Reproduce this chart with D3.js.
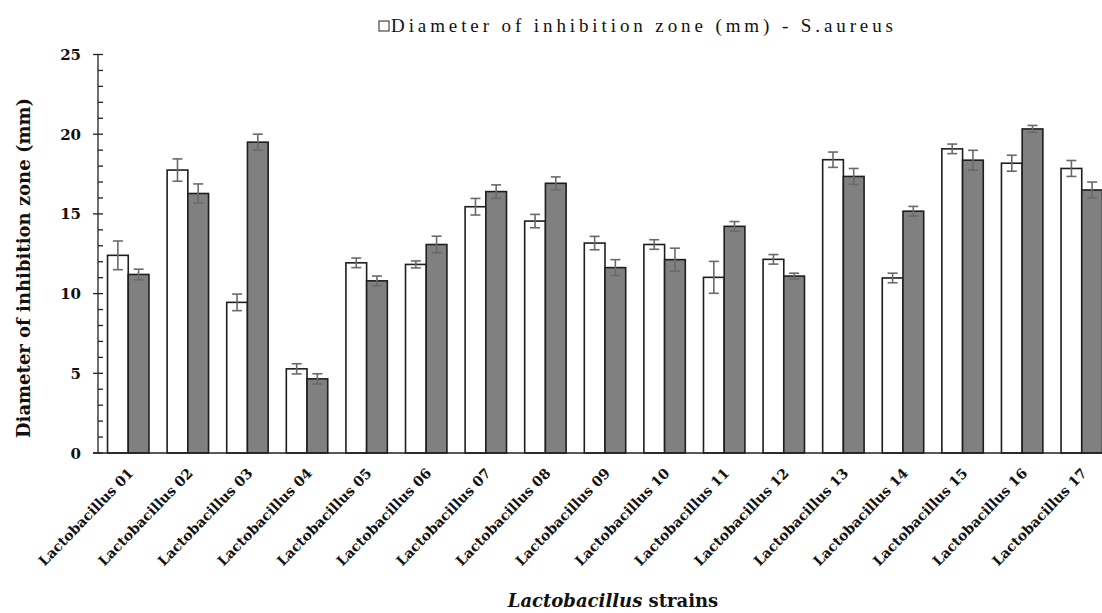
<!DOCTYPE html>
<html>
<head>
<meta charset="utf-8">
<script src="https://cdn.jsdelivr.net/npm/d3@7"></script>
<style>
  body { margin: 0; background: #fff; }
  svg { display: block; }
  text { font-family: "DejaVu Serif", "Liberation Serif", serif; fill: #111; }
</style>
</head>
<body>
<svg id="chart" width="1102" height="613"></svg>
<script>
// strains on the x axis
var strains = ['Lactobacillus 01', 'Lactobacillus 02', 'Lactobacillus 03', 'Lactobacillus 04',
    'Lactobacillus 05', 'Lactobacillus 06', 'Lactobacillus 07', 'Lactobacillus 08',
    'Lactobacillus 09', 'Lactobacillus 10', 'Lactobacillus 11', 'Lactobacillus 12',
    'Lactobacillus 13', 'Lactobacillus 14', 'Lactobacillus 15', 'Lactobacillus 16',
    'Lactobacillus 17'];
// white bars (S.aureus) and grey bars, with their error bars
var aureus = [12.4, 17.75, 9.45, 5.28, 11.93, 11.83, 15.45, 14.55, 13.17, 13.08, 11.02, 12.15, 18.4, 10.98, 19.08, 18.18, 17.85];
var aureusErr = [0.9, 0.7, 0.52, 0.32, 0.3, 0.22, 0.52, 0.42, 0.42, 0.3, 1.0, 0.3, 0.48, 0.3, 0.3, 0.5, 0.5];
var other = [11.2, 16.28, 19.5, 4.65, 10.8, 13.08, 16.4, 16.92, 11.63, 12.13, 14.22, 11.1, 17.35, 15.17, 18.37, 20.33, 16.5];
var otherErr = [0.33, 0.6, 0.5, 0.32, 0.3, 0.52, 0.42, 0.4, 0.5, 0.72, 0.3, 0.18, 0.5, 0.3, 0.62, 0.22, 0.5];
var yTicks = [0, 5, 10, 15, 20, 25];
var legendLabel = 'Diameter of inhibition zone (mm) - S.aureus';

var svg = d3.select('#chart');
var x0 = 98, x1 = 1112, yTop = 54.5, yBot = 453;

var x = d3.scaleBand().domain(strains).range([x0, x1])
    .paddingInner(0.305).paddingOuter(0.16);
var xs = d3.scaleBand().domain(['a', 'b']).range([0, x.bandwidth()]);
var y = d3.scaleLinear().domain([0, 25]).range([yBot, yTop]);

var rows = strains.map(function(s, i) {
    return [
        {strain: s, key: 'a', v: aureus[i], e: aureusErr[i], fill: '#ffffff'},
        {strain: s, key: 'b', v: other[i], e: otherErr[i], fill: '#808080'}
    ];
});
var flat = [].concat.apply([], rows);

var bars = svg.append('g');
bars.selectAll('rect').data(flat).enter().append('rect')
    .attr('x', function(d) { return x(d.strain) + xs(d.key); })
    .attr('y', function(d) { return y(d.v); })
    .attr('width', xs.bandwidth())
    .attr('height', function(d) { return yBot - y(d.v); })
    .attr('fill', function(d) { return d.fill; })
    .attr('stroke', '#1e1e1e')
    .attr('stroke-width', 1.6);

// error bars
var err = svg.append('g').attr('stroke', '#6a6a6a').attr('stroke-width', 1.6);
flat.forEach(function(d) {
    var cx = x(d.strain) + xs(d.key) + xs.bandwidth() / 2;
    var t = y(d.v + d.e), b = y(d.v - d.e);
    err.append('line').attr('x1', cx).attr('x2', cx).attr('y1', t).attr('y2', b);
    err.append('line').attr('x1', cx - 5).attr('x2', cx + 5).attr('y1', t).attr('y2', t);
    err.append('line').attr('x1', cx - 5).attr('x2', cx + 5).attr('y1', b).attr('y2', b);
});

// y axis with minor ticks every 1
var yAxis = svg.append('g').attr('stroke', '#222').attr('stroke-width', 1.3);
yAxis.append('line').attr('x1', x0).attr('x2', x0).attr('y1', yTop).attr('y2', yBot);
d3.range(0, 26).forEach(function(v) {
    var major = v % 5 === 0;
    yAxis.append('line')
        .attr('x1', major ? x0 - 5 : x0).attr('x2', x0 + 5)
        .attr('y1', y(v)).attr('y2', y(v));
});
svg.append('g').selectAll('text').data(yTicks).enter().append('text')
    .attr('x', 81).attr('y', function(d) { return y(d) + 5.5; })
    .attr('text-anchor', 'end')
    .style('font-size', '15px').style('font-weight', 'bold')
    .text(function(d) { return d; });

// x axis baseline
svg.append('line').attr('x1', x0 - 5).attr('x2', 1102).attr('y1', yBot).attr('y2', yBot)
    .attr('stroke', '#222').attr('stroke-width', 1.5);

svg.append('g').selectAll('text').data(strains).enter().append('text')
    .attr('transform', function(d) {
        return 'translate(' + (x(d) + x.bandwidth() / 2 + 6) + ',' + (yBot + 21) + ') rotate(-46)';
    })
    .attr('text-anchor', 'end')
    .style('font-size', '14px').style('font-weight', 'bold')
    .text(function(d) { return d; });

// axis titles
svg.append('text')
    .attr('transform', 'translate(30,' + 268 + ') rotate(-90)')
    .attr('text-anchor', 'middle')
    .style('font-size', '18px').style('font-weight', 'bold')
    .text('Diameter of inhibition zone  (mm)');

var xt = svg.append('text')
    .attr('x', 613).attr('y', 607)
    .attr('text-anchor', 'middle')
    .style('font-size', '18px').style('font-weight', 'bold');
xt.append('tspan').style('font-style', 'italic').text('Lactobacillus');
xt.append('tspan').text(' strains');

// legend
svg.append('rect').attr('x', 379).attr('y', 21).attr('width', 10).attr('height', 10)
    .attr('fill', '#fff').attr('stroke', '#222').attr('stroke-width', 1);
svg.append('text')
    .attr('x', 391).attr('y', 32)
    .attr('textLength', 502).attr('lengthAdjust', 'spacing')
    .style('font-family', '"Liberation Serif", serif')
    .style('font-size', '19px')
    .text(legendLabel);
</script>
</body>
</html>
